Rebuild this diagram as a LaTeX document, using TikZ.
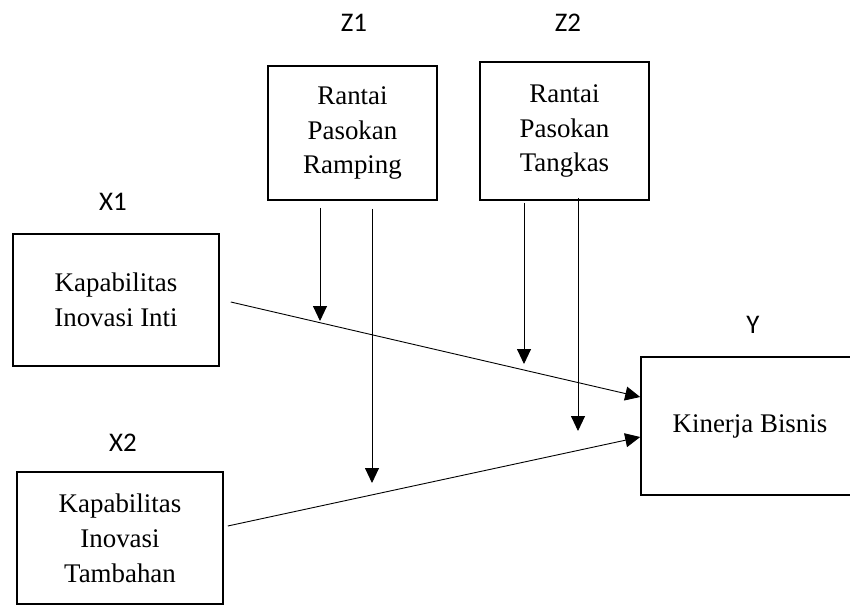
\documentclass[tikz,border=0pt]{standalone}
\usepackage{fontspec}
\setmainfont{Liberation Serif}
\newfontfamily\labfont{Carlito}
\usetikzlibrary{arrows.meta,calc}
\begin{document}
\begin{tikzpicture}[x=1bp,y=-1bp,
  box/.style={draw,line width=1.6bp,inner sep=0pt,align=center,
    font=\fontsize{27}{35}\selectfont},
  lab/.style={inner sep=0pt,font=\labfont\fontsize{27}{30}\selectfont},
  arr/.style={-{Triangle[length=15bp,width=14bp]},line width=0.9bp}]
\useasboundingbox (0,0) rectangle (850,612);
\clip (0,0) rectangle (850,612);
% boxes
\node[box,minimum width=169bp,minimum height=134bp] (z1) at (352.5,133) {Rantai\\Pasokan\\Ramping};
\node[box,minimum width=169bp,minimum height=138bp] (z2) at (564.5,131) {Rantai\\Pasokan\\Tangkas};
\node[box,minimum width=206bp,minimum height=132bp] (x1) at (116,300) {Kapabilitas\\Inovasi Inti};
\node[box,minimum width=206bp,minimum height=132bp] (x2) at (120,538) {Kapabilitas\\Inovasi\\Tambahan};
\node[box,minimum width=218bp,minimum height=138bp] (y) at (750,426) {Kinerja Bisnis};
% labels
\node[lab] (lz1) at (354,23) {Z1};
\node[lab] (lz2) at (568,23) {Z2};
\node[lab] (lx1) at (113,202) {X1};
\node[lab] (lx2) at (123,443) {X2};
\node[lab] (ly) at (753,325) {Y};
% free ends
\coordinate (t1) at (320,321);
\coordinate (t2) at (372,483);
\coordinate (t3) at (524,364);
\coordinate (t4) at (578,431);
% connectors
\draw[arr] ($(x1.east)+(11,2)$) -- ($(y.west)+(0,-29)$);
\draw[arr] ($(x2.east)+(4,-12)$) -- ($(y.west)+(0,11)$);
\draw[arr] ($(z1.south -| t1)+(0,7)$) -- (t1);
\draw[arr] ($(z1.south -| t2)+(0,8)$) -- (t2);
\draw[arr] ($(z2.south -| t3)+(0,2)$) -- (t3);
\draw[arr] ($(z2.south -| t4)+(0,-3)$) -- (t4);
\end{tikzpicture}
\end{document}
